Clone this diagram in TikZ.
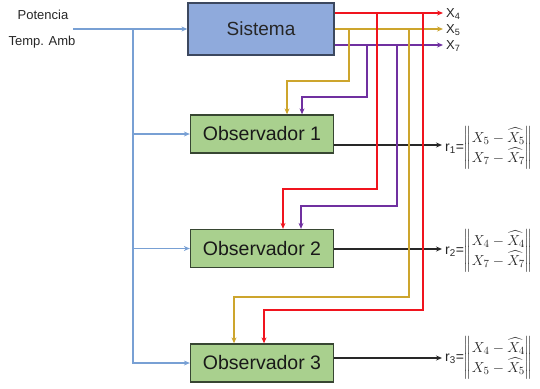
\documentclass[tikz,border=0pt]{standalone}
\usepackage{amsmath}
\usepackage{fontspec}
\setmainfont{Liberation Sans}
\usetikzlibrary{arrows.meta}
\definecolor{sysfill}{RGB}{143,170,220}
\definecolor{sysdraw}{RGB}{60,72,95}
\definecolor{obsfill}{RGB}{169,208,142}
\definecolor{obsdraw}{RGB}{55,70,50}
\definecolor{blu}{RGB}{120,160,212}
\definecolor{rd}{RGB}{240,20,30}
\definecolor{yl}{RGB}{205,165,45}
\definecolor{pu}{RGB}{112,48,160}
\definecolor{blk}{RGB}{40,40,40}
\newcommand{\rnorm}[2]{{\renewcommand{\arraystretch}{1.1}\fontsize{15}{17}\selectfont$\left\|\begin{matrix}#1\\ #2\end{matrix}\right\|$}}
\tikzset{
  sysbox/.style={draw=sysdraw,fill=sysfill,line width=1.3pt,minimum width=146pt,minimum height=52pt,inner sep=0pt,font=\fontsize{19}{22}\selectfont,text=black!85},
  obsbox/.style={draw=obsdraw,fill=obsfill,line width=1.3pt,minimum width=143pt,minimum height=38pt,inner sep=0pt,font=\fontsize{19.5}{22}\selectfont,text=black!90},
  tip/.style={-{Stealth[length=6pt,width=5pt]}},
  bline/.style={draw=blu,line width=1.4pt,tip},
  rline/.style={draw=rd,line width=1.8pt,tip},
  yline/.style={draw=yl,line width=1.8pt,tip},
  pline/.style={draw=pu,line width=1.8pt,tip},
  kline/.style={draw=blk,line width=1.4pt,tip},
  inlab/.style={font=\fontsize{13}{15}\selectfont,inner sep=0pt,text=black!85},
  outlab/.style={font=\fontsize{13}{15}\selectfont,inner sep=0pt,anchor=west,text=black!85},
  rlab/.style={font=\fontsize{14}{16}\selectfont,inner sep=0pt,anchor=west,text=black!85}
}
\begin{document}
\begin{tikzpicture}[x=1pt,y=-1pt]
\useasboundingbox (0,0) rectangle (540,388);
% nodes
\node[sysbox] (S) at (261,29) {Sistema};
\node[obsbox] (O1) at (262,134) {Observador 1};
\node[obsbox] (O2) at (262,248.5) {Observador 2};
\node[obsbox] (O3) at (262,363) {Observador 3};
\node[inlab] (pot) at (43,15) {Potencia};
\node[inlab] (tmp) at (42,42) {Temp. Amb};
% coordinates
\coordinate (in) at (73,29);
\coordinate (jb) at (133,29);
\coordinate (x4) at (443,13);
\coordinate (x5) at (443,29);
\coordinate (x7) at (443,45);
\coordinate (r1) at (442,145);
\coordinate (r2) at (442,249);
\coordinate (r3) at (442,358);
\coordinate (ya) at (349,29);
\coordinate (pa) at (367,45);
\coordinate (ra) at (377,13);
\coordinate (pb) at (397,45);
\coordinate (yb) at (409,29);
\coordinate (rb) at (423,13);
% blue inputs
\draw[bline] (in) -- (S.west);
\draw[bline] (jb) |- (O3.west);
\draw[bline] (jb |- O1.west) -- (O1.west);
\draw[bline] (jb |- O2.west) -- (O2.west);
% black outputs
\draw[kline] (O1.east |- r1) -- (r1);
\draw[kline] (O2.east |- r2) -- (r2);
\draw[kline] (O3.east |- r3) -- (r3);
% system outputs
\draw[rline] (S.east |- x4) -- (x4);
\draw[yline] (S.east |- x5) -- (x5);
\draw[pline] (S.east |- x7) -- (x7);
% feedback branches
\draw[yline] (ya) -- (349,81) -| ([xshift=25pt]O1.north);
\draw[pline] (pa) -- (367,97) -| ([xshift=40pt]O1.north);
\draw[rline] (ra) -- (377,189) -| ([xshift=21pt]O2.north);
\draw[pline] (pb) -- (397,206) -| ([xshift=39pt]O2.north);
\draw[yline] (yb) -- (409,297) -| ([xshift=-28pt]O3.north);
\draw[rline] (rb) -- (423,310) -| ([xshift=2pt]O3.north);
% labels
\node[outlab] (l4) at (446,14) {X\textsubscript{4}};
\node[outlab] (l5) at (446,30) {X\textsubscript{5}};
\node[outlab] (l7) at (446,46) {X\textsubscript{7}};
\node[rlab] (t1) at (445,148) {r\textsubscript{1}=\rnorm{X_5-\widehat{X_5}}{X_7-\widehat{X_7}}};
\node[rlab] (t2) at (445,251) {r\textsubscript{2}=\rnorm{X_4-\widehat{X_4}}{X_7-\widehat{X_7}}};
\node[rlab] (t3) at (445,358) {r\textsubscript{3}=\rnorm{X_4-\widehat{X_4}}{X_5-\widehat{X_5}}};
\end{tikzpicture}
\end{document}
